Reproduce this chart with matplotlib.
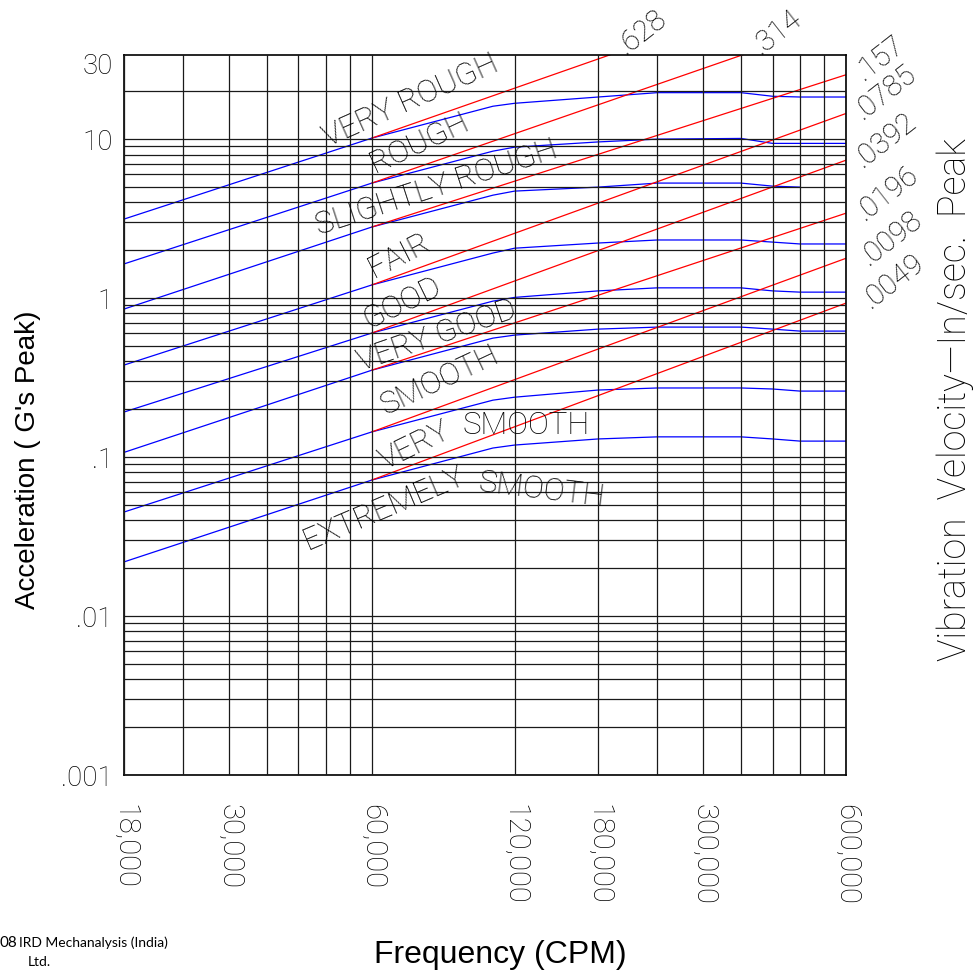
import matplotlib.pyplot as plt
import numpy as np

# frequency points (CPM) where the severity curves were read
cpm = [18000, 60000, 108000, 120000, 180000, 240000, 360000, 420000, 480000, 600000]

# severity boundary curves, acceleration in g's peak
very_rough = [3.14, 10.15, 16.1, 16.8, 18.4, 19.6, 19.6, 18.6, 18.4, 18.4]
rough = [1.64, 5.29, 8.4, 8.9, 9.6, 10.0, 10.1, 9.4, 9.4, 9.4]
slightly_rough = [0.853, 2.80, 4.44, 4.71, 4.99, 5.29, 5.29, 5.06, 4.99, np.nan]
fair = [0.379, 1.21, 1.92, 2.06, 2.22, 2.32, 2.32, 2.25, 2.19, 2.19]
good = [0.192, 0.603, 0.957, 1.01, 1.11, 1.16, 1.16, 1.11, 1.09, 1.09]
very_good = [0.107, 0.352, 0.560, 0.585, 0.638, 0.657, 0.657, 0.638, 0.620, 0.620]
smooth = [0.0451, 0.144, 0.228, 0.238, 0.264, 0.272, 0.272, 0.268, 0.260, 0.260]
very_smooth = [0.0219, 0.0717, 0.114, 0.119, 0.130, 0.134, 0.134, 0.130, 0.126, 0.126]
curves = [very_rough, rough, slightly_rough, fair, good, very_good, smooth, very_smooth]

# constant velocity lines (in/sec peak), value at 60,000 and at 600,000 CPM
vel_labels = ['.628', '.314', '.157', '.0785', '.0392', '.0196', '.0098', '.0049']
vel_start = [10.15, 5.29, 2.80, 1.21, 0.603, 0.352, 0.144, 0.0717]
vel_end = [112, 56.9, 25.4, 14.5, 7.37, 3.42, 1.78, 0.93]
vel_offsets = [(33, 23), (35, 23), (34, 17), (40, 21), (40, 20), (42, 20), (46, 20), (48, 22)]

# region names: (text, cpm, g, angle)
regions = [
    ('VERY ROUGH', 72300, 17.3, 24),
    ('ROUGH', 75400, 9.44, 25),
    ('SLIGHTLY ROUGH', 82200, 4.92, 18),
    ('FAIR', 68600, 1.86, 27),
    ('GOOD', 69600, 0.93, 26),
    ('VERY GOOD', 82200, 0.577, 19),
    ('SMOOTH', 83400, 0.305, 25),
    ('VERY', 74000, 0.117, 26),
    ('SMOOTH', 127000, 0.159, 0),
    ('EXTREMELY', 63800, 0.0478, 23),
    ('SMOOTH', 137000, 0.062, -7),
]

xticks = [18000, 30000, 60000, 120000, 180000, 300000, 600000]
xticklabels = ['18,000', '30,000', '60,000', '120,000', '180,000', '300,000', '600,000']
yticks = [0.001, 0.01, 0.1, 1, 10, 30]
yticklabels = ['.001', '.01', '.1', '1', '10', '30']

xgrid = [18000, 24000, 30000, 36000, 42000, 48000, 54000, 60000,
         120000, 180000, 240000, 300000, 360000, 420000, 480000, 540000, 600000]
ygrid = [k * 10.0 ** e for e in range(-3, 1) for k in range(1, 10)] + [10, 20]

thin = dict(family=['Roboto', 'DejaVu Sans'], weight='light', color='black')
arial = dict(family=['Liberation Sans', 'DejaVu Sans'], color='black')

fig = plt.figure(figsize=(9.74, 9.74), dpi=100)
ax = fig.add_axes([0.1273, 0.2043, 0.7413, 0.7392])
ax.set_xscale('log')
ax.set_yscale('log')
ax.set_xlim(18000, 600000)
ax.set_ylim(0.001, 33.8)

for x in xgrid:
    ax.axvline(x, color='#1a1a1a', lw=0.9, zorder=3)
for y in ygrid:
    ax.axhline(y, color='#1a1a1a', lw=0.9, zorder=3)

for c in curves:
    ax.plot(cpm, c, color='#0000ff', lw=0.9, zorder=2)

for lab, a0, a1, off in zip(vel_labels, vel_start, vel_end, vel_offsets):
    ax.plot([60000, 600000], [a0, a1], color='#ff0000', lw=0.9, zorder=2)
    top = ax.get_ylim()[1]
    if a1 > top:
        xe = 60000 * 10 ** (np.log10(top / a0) / np.log10(a1 / a0))
        ye = top
    else:
        xe, ye = 600000, a1
    ax.annotate(lab, (xe, ye), xytext=off, textcoords='offset pixels',
                ha='center', va='center', rotation=38, fontsize=21,
                annotation_clip=False, **thin)

for txt, x, y, ang in regions:
    ax.text(x, y, txt, rotation=ang, ha='center', va='center', fontsize=22.5,
            rotation_mode='anchor', zorder=4, **thin)

ax.set_xticks(xticks)
ax.set_xticklabels(xticklabels, rotation=270, fontsize=21, **thin)
ax.set_xticks([], minor=True)
ax.set_yticks(yticks)
ax.set_yticklabels(yticklabels, fontsize=20, **thin)
ax.set_yticks([], minor=True)
ax.tick_params(axis='x', length=0, pad=21)
ax.tick_params(axis='y', length=0, pad=8)
for s in ax.spines.values():
    s.set_color('black')
    s.set_linewidth(1.2)

fig.text(0.029, 0.528, "Acceleration ( G's Peak)", rotation=90, ha='center', va='center',
         fontsize=20, **arial)
fig.text(0.514, 0.019, 'Frequency (CPM)', ha='center', va='center', fontsize=23, **arial)
fig.text(0.981, 0.59, 'Vibration  Velocity\u2014In/sec.  Peak', rotation=90,
         ha='center', va='center', fontsize=27, **thin)

fig.text(0.0, 0.032, '08', ha='left', va='center', fontsize=11,
         family=['Lato', 'DejaVu Sans'])
fig.text(0.019, 0.032, 'IRD Mechanalysis (India)', ha='left', va='center', fontsize=10,
         family=['Lato', 'DejaVu Sans'])
fig.text(0.028, 0.012, 'Ltd.', ha='left', va='center', fontsize=10,
         family=['Lato', 'DejaVu Sans'])

fig.savefig('out.png', dpi=100, facecolor='white')
